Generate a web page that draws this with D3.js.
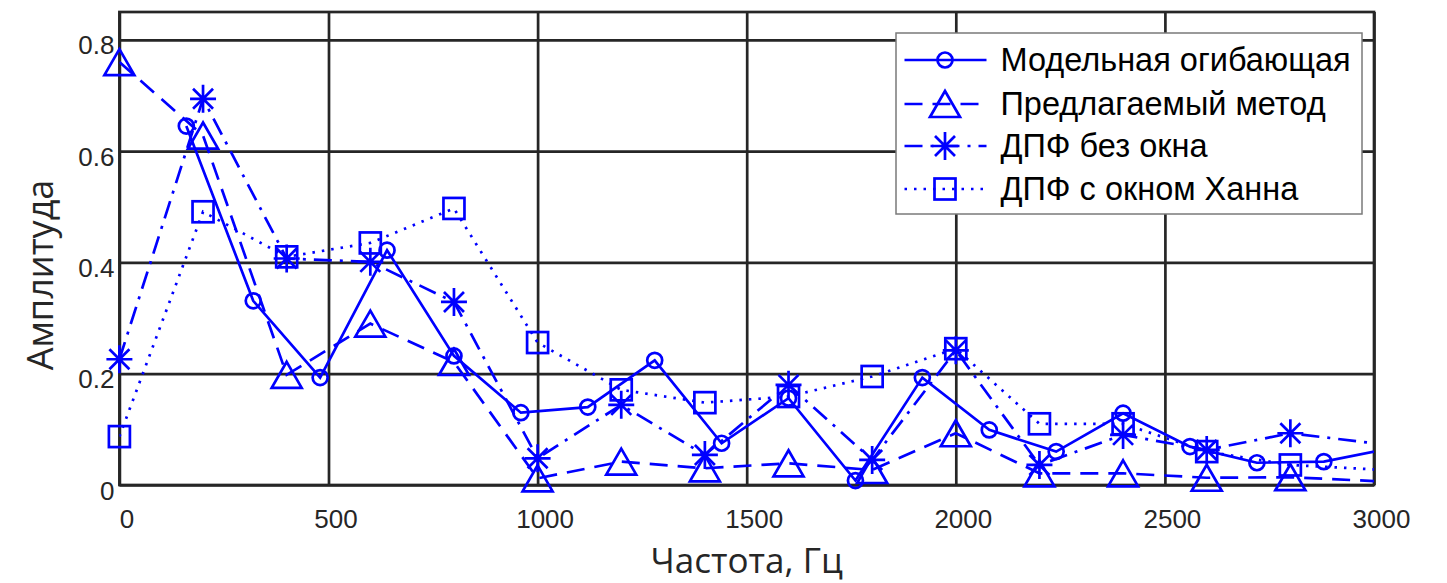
<!DOCTYPE html>
<html>
<head>
<meta charset="utf-8">
<script src="https://cdn.jsdelivr.net/npm/d3@7"></script>
<style>
  html, body { margin: 0; padding: 0; background: #fff; }
  svg { display: block; }
</style>
</head>
<body>
<div id="chart"></div>
<script>
// model envelope is sampled every 160 Hz, the estimates every 200 Hz
var modelFreq = [160, 320, 480, 640, 800, 960, 1120, 1280, 1440, 1600, 1760, 1920, 2080, 2240, 2400, 2560, 2720, 2880, 3040];
var modelAmp = [0.645, 0.331, 0.193, 0.422, 0.232, 0.130, 0.140, 0.224, 0.075, 0.156, 0.008, 0.193, 0.099, 0.060, 0.129, 0.069, 0.040, 0.042, 0.066];

var stepFreq = [0, 200, 400, 600, 800, 1000, 1200, 1400, 1600, 1800, 2000, 2200, 2400, 2600, 2800, 3200];
var proposedAmp = [0.760, 0.628, 0.198, 0.290, 0.221, 0.012, 0.042, 0.030, 0.039, 0.027, 0.093, 0.021, 0.021, 0.013, 0.014, 0.000];
var dftAmp = [0.226, 0.694, 0.407, 0.401, 0.329, 0.048, 0.144, 0.054, 0.180, 0.045, 0.242, 0.036, 0.090, 0.063, 0.093, 0.057];
var hannAmp = [0.087, 0.491, 0.410, 0.435, 0.497, 0.256, 0.171, 0.148, 0.159, 0.195, 0.245, 0.110, 0.110, 0.060, 0.036, 0.020];

var seriesNames = ['Модельная огибающая', 'Предлагаемый метод', 'ДПФ без окна', 'ДПФ с окном Ханна'];
var xTicks = [0, 500, 1000, 1500, 2000, 2500, 3000];
var yTicks = [0, 0.2, 0.4, 0.6, 0.8];
var yTickLabels = ['0', '0.2', '0.4', '0.6', '0.8'];

(function() {
  var width = 1447, height = 583;
  var pLeft = 119.4, pRight = 1374, pTop = 12, pBottom = 485;
  var blue = '#0000ff', ink = '#262626';

  var x = d3.scaleLinear().domain([0, 3000]).range([pLeft, pRight]);
  var y = d3.scaleLinear().domain([0, 0.85]).range([pBottom, pTop]);

  var markers = {
    circle: function(g) {
      g.append('circle').attr('r', 7.5);
    },
    triangle: function(g) {
      g.append('path').attr('d', 'M0,-13L15,13L-15,13Z');
    },
    star: function(g) {
      g.append('path').attr('d', 'M0,-14V14M-13,0H13M-10,-10L10,10M-10,10L10,-10');
    },
    square: function(g) {
      g.append('rect').attr('x', -10.5).attr('y', -10.5).attr('width', 21).attr('height', 21);
    }
  };

  var series = [
    { name: seriesNames[0], xs: modelFreq, ys: modelAmp, dash: null, marker: 'circle' },
    { name: seriesNames[1], xs: stepFreq, ys: proposedAmp, dash: '18,10', marker: 'triangle' },
    { name: seriesNames[2], xs: stepFreq, ys: dftAmp, dash: '18,8,3,8', marker: 'star' },
    { name: seriesNames[3], xs: stepFreq, ys: hannAmp, dash: '2.5,7', marker: 'square' }
  ];

  var svg = d3.select('#chart').append('svg').attr('width', width).attr('height', height);

  svg.append('defs').append('clipPath').attr('id', 'plotclip')
    .append('rect').attr('x', pLeft).attr('y', pTop).attr('width', pRight - pLeft).attr('height', pBottom - pTop);

  // grid
  svg.append('g').attr('transform', 'translate(0,' + pBottom + ')')
    .call(d3.axisBottom(x).tickValues(xTicks).tickSize(-(pBottom - pTop)).tickFormat(''))
    .call(function(g) {
      g.select('.domain').remove();
      g.selectAll('line').attr('stroke', ink).attr('stroke-width', 2.7);
    });
  svg.append('g').attr('transform', 'translate(' + pLeft + ',0)')
    .call(d3.axisLeft(y).tickValues(yTicks).tickSize(-(pRight - pLeft)).tickFormat(''))
    .call(function(g) {
      g.select('.domain').remove();
      g.selectAll('line').attr('stroke', ink).attr('stroke-width', 2.7);
    });

  svg.append('rect').attr('x', pLeft).attr('y', pTop).attr('width', pRight - pLeft).attr('height', pBottom - pTop)
    .attr('fill', 'none').attr('stroke', ink).attr('stroke-width', 2.7);

  // tick labels
  svg.append('g').attr('transform', 'translate(0,' + pBottom + ')')
    .call(d3.axisBottom(x).tickValues(xTicks).tickSize(0).tickFormat(d3.format('d')))
    .call(function(g) {
      g.select('.domain').remove();
      g.selectAll('text').attr('y', 43).attr('dy', 0).attr('dx', 7)
        .attr('fill', ink).attr('font-family', 'Liberation Sans, Arial, sans-serif').attr('font-size', 26);
    });
  svg.append('g').attr('transform', 'translate(' + pLeft + ',0)')
    .call(d3.axisLeft(y).tickValues(yTicks).tickSize(0).tickPadding(5)
      .tickFormat(function(d, i) { return yTickLabels[i]; }))
    .call(function(g) {
      g.select('.domain').remove();
      g.selectAll('text').attr('dy', '0.54em')
        .attr('fill', ink).attr('font-family', 'Liberation Sans, Arial, sans-serif').attr('font-size', 26);
    });

  // axis titles
  svg.append('text').attr('x', (pLeft + pRight) / 2).attr('y', 573).attr('text-anchor', 'middle')
    .attr('font-family', 'Open Sans, sans-serif').attr('font-size', 35).attr('fill', ink)
    .text('Частота, Гц');
  svg.append('text').attr('transform', 'translate(53,275) rotate(-90)').attr('text-anchor', 'middle')
    .attr('font-family', 'Open Sans, sans-serif').attr('font-size', 36).attr('fill', ink)
    .text('Амплитуда');

  // series lines and markers
  var line = d3.line().x(function(d) { return x(d[0]); }).y(function(d) { return y(d[1]); });

  series.forEach(function(s) {
    var pts = s.xs.map(function(f, i) { return [f, s.ys[i]]; });
    svg.append('path').datum(pts).attr('d', line).attr('clip-path', 'url(#plotclip)')
      .attr('fill', 'none').attr('stroke', blue).attr('stroke-width', 2.7)
      .attr('stroke-dasharray', s.dash);
    svg.append('g').selectAll('g').data(pts.filter(function(p) { return p[0] <= 3000; }))
      .enter().append('g')
      .attr('transform', function(p) { return 'translate(' + x(p[0]) + ',' + y(p[1]) + ')'; })
      .attr('fill', 'none').attr('stroke', blue).attr('stroke-width', 2.7)
      .each(function() { markers[s.marker](d3.select(this)); });
  });

  // legend
  var legend = svg.append('g');
  legend.append('rect').attr('x', 896).attr('y', 33).attr('width', 466).attr('height', 181)
    .attr('fill', '#fff').attr('stroke', '#7a7a7a').attr('stroke-width', 1.5);
  var rowY = [60, 104, 146, 189];
  series.forEach(function(s, i) {
    var g = legend.append('g').attr('transform', 'translate(0,' + rowY[i] + ')');
    g.append('line').attr('x1', 904.5).attr('x2', 986.5)
      .attr('stroke', blue).attr('stroke-width', 2.7).attr('stroke-dasharray', s.dash);
    var m = g.append('g').attr('transform', 'translate(945,0)')
      .attr('fill', 'none').attr('stroke', blue).attr('stroke-width', 2.7);
    markers[s.marker](m);
    g.append('text').attr('x', 1000.5).attr('dy', 10.5)
      .attr('font-family', 'Liberation Sans, Arial, sans-serif').attr('font-size', 32.5).attr('fill', '#000')
      .text(s.name);
  });
})();
</script>
</body>
</html>
